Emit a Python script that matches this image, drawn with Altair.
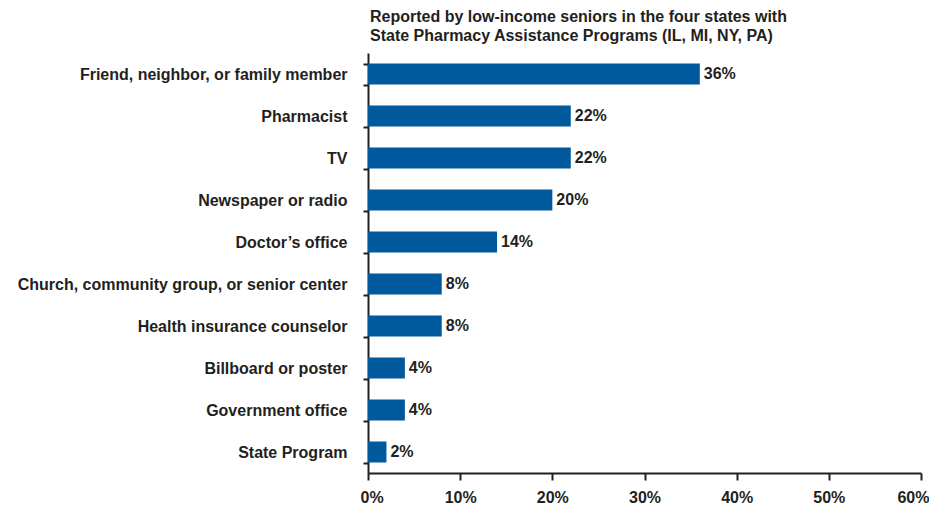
import altair as alt
import pandas as pd

categories = [
    "Friend, neighbor, or family member",
    "Pharmacist",
    "TV",
    "Newspaper or radio",
    "Doctor\u2019s office",
    "Church, community group, or senior center",
    "Health insurance counselor",
    "Billboard or poster",
    "Government office",
    "State Program",
]
values = [36, 22, 22, 20, 14, 8, 8, 4, 4, 2]
x_ticks = [0, 10, 20, 30, 40, 50, 60]
title_lines = [
    "Reported by low-income seniors in the four states with",
    "State Pharmacy Assistance Programs (IL, MI, NY, PA)",
]

df = pd.DataFrame({"source": categories, "pct": values})
df["label"] = df["pct"].astype(str) + "%"

FONT = "Liberation Sans"
INK = "#231F20"
BLUE = "#00599C"
FS = 16

y_enc = alt.Y(
    "source:N",
    sort=categories,
    title=None,
    scale=alt.Scale(paddingInner=0.5, paddingOuter=0.25),
    axis=alt.Axis(
        tickBand="extent",
        tickSize=5,
        tickColor=INK,
        tickWidth=2,
        domainColor=INK,
        domainWidth=2,
        labelFont=FONT,
        labelFontSize=FS,
        labelFontWeight="bold",
        labelColor=INK,
        labelPadding=16,
        labelLimit=400,
    ),
)

x_enc = alt.X(
    "pct:Q",
    title=None,
    scale=alt.Scale(domain=[0, 60], nice=False),
    axis=alt.Axis(
        values=x_ticks,
        labelExpr="datum.value + '%'",
        labelFlush=True,
        labelFlushOffset=8,
        grid=False,
        tickSize=7,
        tickColor=INK,
        tickWidth=2,
        domainColor=INK,
        domainWidth=2,
        labelFont=FONT,
        labelFontSize=FS,
        labelFontWeight="bold",
        labelColor=INK,
        labelPadding=9,
    ),
)

base = alt.Chart(df)
bars = base.mark_bar(color=BLUE).encode(x=x_enc, y=y_enc)
texts = base.mark_text(
    align="left", baseline="middle", dx=4, font=FONT, fontSize=FS,
    fontWeight="bold", color=INK,
).encode(x="pct:Q", y=alt.Y("source:N", sort=categories), text="label:N")

chart = (
    alt.layer(bars, texts)
    .properties(
        width=553,
        height=420,
        padding={"left": 9, "top": 1, "right": 0, "bottom": 0},
        title=alt.TitleParams(
            text=title_lines,
            anchor="start",
            frame="group",
            font=FONT,
            fontSize=FS,
            fontWeight="bold",
            color=INK,
            lineHeight=19,
            offset=1,
            dx=2,
        ),
    )
    .configure_view(stroke=None)
)

chart.save("out.html", embed_options={"renderer": "svg", "actions": False})
